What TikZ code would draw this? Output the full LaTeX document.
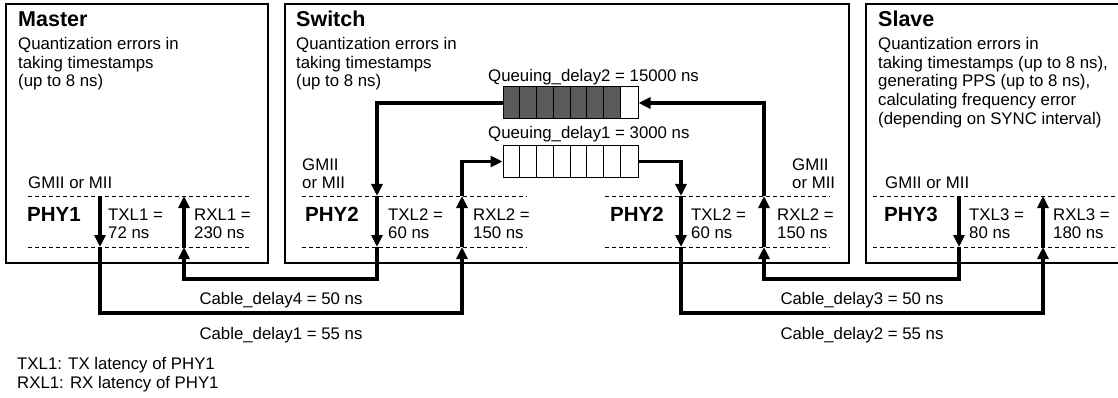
\documentclass[tikz,border=0pt]{standalone}
\usepackage{fontspec}
\setmainfont{Liberation Sans}
\usetikzlibrary{arrows.meta,calc}
\definecolor{qgray}{RGB}{90,90,90}

\begin{document}
\begin{tikzpicture}[x=1pt,y=-1pt,
  box/.style={draw,line width=1.2pt},
  cable/.style={line width=3.6pt},
  arr/.style={-{Triangle[width=11pt,length=12pt]}},
  ifline/.style={dash pattern=on 4pt off 3pt,line width=0.9pt},
  title/.style={font=\fontsize{21.5}{24}\selectfont\bfseries,inner sep=0pt,anchor=base west},
  body/.style={font=\fontsize{16.8}{18.8}\selectfont,inner sep=0pt,align=left,anchor=north west},
  lat/.style={font=\fontsize{16.8}{18}\selectfont,inner sep=0pt,align=left,anchor=north west},
  phy/.style={font=\fontsize{20.5}{24}\selectfont\bfseries,inner sep=0pt,anchor=base west},
  queue/.style={draw,line width=1pt,minimum width=135pt,minimum height=32pt,inner sep=0pt},
  qfull/.style={queue,path picture={\fill[qgray] (path picture bounding box.north west)
      rectangle ([xshift=-16.875pt]path picture bounding box.south east);}}]
\useasboundingbox (0,0) rectangle (1118,398);

% the three units
\draw[box] (6,4) rectangle (268,263);
\draw[box] (285,4) rectangle (849,263);
\draw[box] (866,4) rectangle (1130,263);

\node[title] (mtitle) at (18,27) {Master};
\node[body] (mbody) at (18,37) {Quantization errors in\\taking timestamps\\(up to 8 ns)};
\node[title] (swtitle) at (296,27) {Switch};
\node[body] (swbody) at (296,37) {Quantization errors in\\taking timestamps\\(up to 8 ns)};
\node[title] (sltitle) at (878,27) {Slave};
\node[body] (slbody) at (878,37) {Quantization errors in\\taking timestamps (up to 8 ns),\\generating PPS (up to 8 ns),\\calculating frequency error\\(depending on SYNC interval)};

% PHY layers
\draw[ifline] (28,196) -- (250,196);
\draw[ifline] (28,247) -- (250,247);
\draw[ifline] (302,196) -- (527,196);
\draw[ifline] (302,247) -- (527,247);
\draw[ifline] (605,196) -- (830,196);
\draw[ifline] (605,247) -- (830,247);
\draw[ifline] (873,196) -- (1118,196);
\draw[ifline] (873,247) -- (1118,247);

\node[lat,anchor=base west] (mgmii) at (28,189) {GMII or MII};
\node[lat] (swlgmii) at (302,159) {GMII\\or MII};
\node[lat] (swrgmii) at (792,159) {GMII\\or MII};
\node[lat,anchor=base west] (slgmii) at (885,189) {GMII or MII};

\node[phy] (phy1) at (27,221) {PHY1};
\node[phy] (phy2l) at (305,221) {PHY2};
\node[phy] (phy2r) at (610,221) {PHY2};
\node[phy] (phy3) at (884,221) {PHY3};

\node[lat] (txl1) at (108,208.5) {TXL1 =\\72 ns};
\node[lat] (rxl1) at (194,208.5) {RXL1 =\\230 ns};
\node[lat] (txl2l) at (388,208.5) {TXL2 =\\60 ns};
\node[lat] (rxl2l) at (473,208.5) {RXL2 =\\150 ns};
\node[lat] (txl2r) at (691,208.5) {TXL2 =\\60 ns};
\node[lat] (rxl2r) at (777,208.5) {RXL2 =\\150 ns};
\node[lat] (txl3) at (969,208.5) {TXL3 =\\80 ns};
\node[lat] (rxl3) at (1053,208.5) {RXL3 =\\180 ns};

% ports: top and bottom of each PHY
\foreach \n/\x in {m-tx/100,m-rx/184,swl-tx/377,swl-rx/462,swr-tx/681,swr-rx/764,sl-tx/959,sl-rx/1043}{
  \coordinate (\n-t) at (\x,196);
  \coordinate (\n-b) at (\x,247);
}

% queues
\node[qfull] (q2) at (570.5,103) {};
\node[queue] (q1) at (570.5,161.5) {};
\foreach \i in {1,...,7}{
  \draw[line width=0.8pt] ($(q2.north west)+(\i*16.875,0)$) -- ($(q2.south west)+(\i*16.875,0)$);
  \draw[line width=0.8pt] ($(q1.north west)+(\i*16.875,0)$) -- ($(q1.south west)+(\i*16.875,0)$);
}
\node[lat,anchor=base west] (q2lab) at (488,82) {Queuing\_delay2 = 15000 ns};
\node[lat,anchor=base west] (q1lab) at (488,139) {Queuing\_delay1 = 3000 ns};

% master -> switch -> slave
\draw[cable,arr] (m-tx-t) -- (m-tx-b);
\draw[cable,arr] (m-tx-b) -- ++(0,66) -| (swl-rx-b);
\draw[cable,arr] (swl-rx-b) -- (swl-rx-t);
\draw[cable,arr] (swl-rx-t) |- (q1.west);
\draw[cable,arr] (q1.east) -| (swr-tx-t);
\draw[cable,arr] (swr-tx-t) -- (swr-tx-b);
\draw[cable,arr] (swr-tx-b) -- ++(0,66) -| (sl-rx-b);
\draw[cable,arr] (sl-rx-b) -- (sl-rx-t);

% slave -> switch -> master
\draw[cable,arr] (sl-tx-t) -- (sl-tx-b);
\draw[cable,arr] (sl-tx-b) -- ++(0,32) -| (swr-rx-b);
\draw[cable,arr] (swr-rx-b) -- (swr-rx-t);
\draw[cable,arr] (swr-rx-t) |- (q2.east);
\draw[cable,arr] (q2.west) -| (swl-tx-t);
\draw[cable,arr] (swl-tx-t) -- (swl-tx-b);
\draw[cable,arr] (swl-tx-b) -- ++(0,32) -| (m-rx-b);
\draw[cable,arr] (m-rx-b) -- (m-rx-t);

\node[lat,anchor=base] (cd4) at (281,304) {Cable\_delay4 = 50 ns};
\node[lat,anchor=base] (cd1) at (281,339) {Cable\_delay1 = 55 ns};
\node[lat,anchor=base] (cd3) at (862,304) {Cable\_delay3 = 50 ns};
\node[lat,anchor=base] (cd2) at (862,339) {Cable\_delay2 = 55 ns};

\node[lat,anchor=base west] (fn1) at (17,369) {TXL1: TX latency of PHY1};
\node[lat,anchor=base west] (fn2) at (17,388) {RXL1: RX latency of PHY1};
\end{tikzpicture}
\end{document}
